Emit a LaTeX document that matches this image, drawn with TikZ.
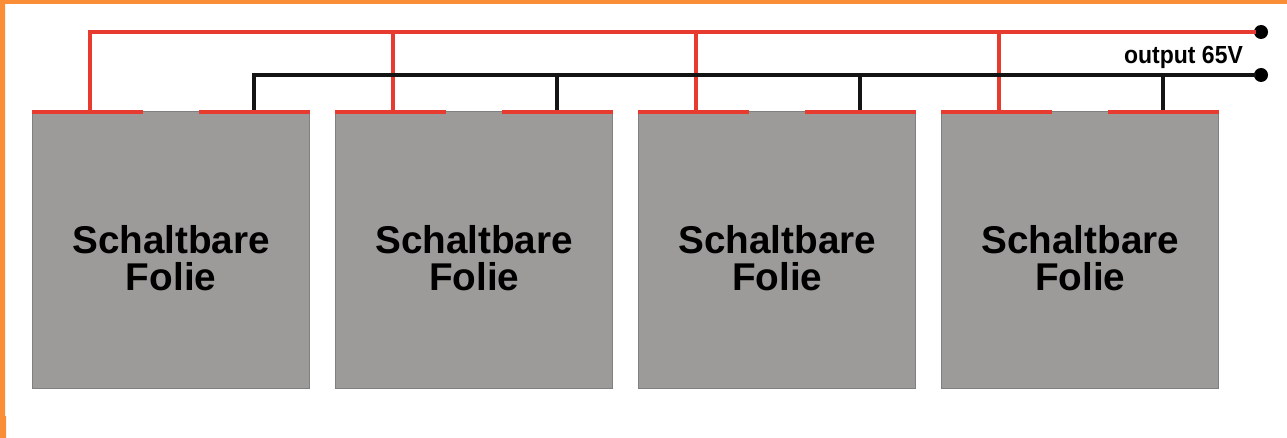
\documentclass[tikz,border=0pt]{standalone}
\usepackage{fontspec}
\setmainfont{Liberation Sans}
\usepackage{tikz}
\begin{document}
\begin{tikzpicture}[x=1pt,y=-1pt]
\tikzstyle{folie}=[draw=black!50,line width=1.3pt,fill=folieGrey,minimum width=277pt,minimum height=277pt,inner sep=0pt,anchor=north west];
\tikzstyle{folietext}=[inner sep=0pt,align=center,yshift=-8pt,font=\fontsize{38.7}{37}\selectfont\bfseries];
\tikzstyle{kontakt}=[fill=kontaktRed,minimum width=111pt,minimum height=4pt,inner sep=0pt,anchor=north west];
\tikzstyle{klemme}=[fill=black,shape=circle,minimum size=14pt,inner sep=0pt];
\tikzstyle{plus}=[draw=kontaktRed,line width=3.6pt,line cap=rect];
\tikzstyle{minus}=[draw=black!92,line width=3.4pt,line cap=rect];
\definecolor{folieGrey}{HTML}{9C9B99}
\definecolor{kontaktRed}{HTML}{E63B2E}
\definecolor{rahmenOrange}{HTML}{F98E36}
\useasboundingbox (0,0) rectangle (1287,438);
% orange frame
\fill[rahmenOrange] (0,0) -- (1287,0) -- (1287,4) -- (5,4) -- (5,416) -- (6,416) -- (6,438) -- (0,438) -- cycle;
% output
\node[klemme] (klemmeRot) at (1261,32) {};
\node[klemme] (klemmeSchwarz) at (1261,75) {};
\node[font=\fontsize{24.7}{24.7}\selectfont\bfseries,inner sep=0pt,xscale=0.93] (output) at (1183.5,57.5) {output 65V};
% panels
\foreach \n/\x in {1/32,2/335,3/638,4/941}
{
	\node[folie] (folie\n) at (\x,111) {};
	\node[folietext] (text\n) at (folie\n) {Schaltbare\\Folie};
	\draw[plus] ([xshift=58pt]folie\n.north west) -- ++(0,-79);
	\draw[minus] ([xshift=222pt]folie\n.north west) -- ++(0,-36);
	\node[kontakt] (rot\n) at (\x-0.5,110) {};
	\node[kontakt] (schwarz\n) at (\x+167,110) {};
}
\coordinate (busRot) at ([xshift=58pt]folie1.north west |- klemmeRot);
\coordinate (busSchwarz) at ([xshift=222pt]folie1.north west |- klemmeSchwarz);
\draw[plus] (busRot) -- (klemmeRot);
\draw[minus] (busSchwarz) -- (klemmeSchwarz);
\end{tikzpicture}
\end{document}
